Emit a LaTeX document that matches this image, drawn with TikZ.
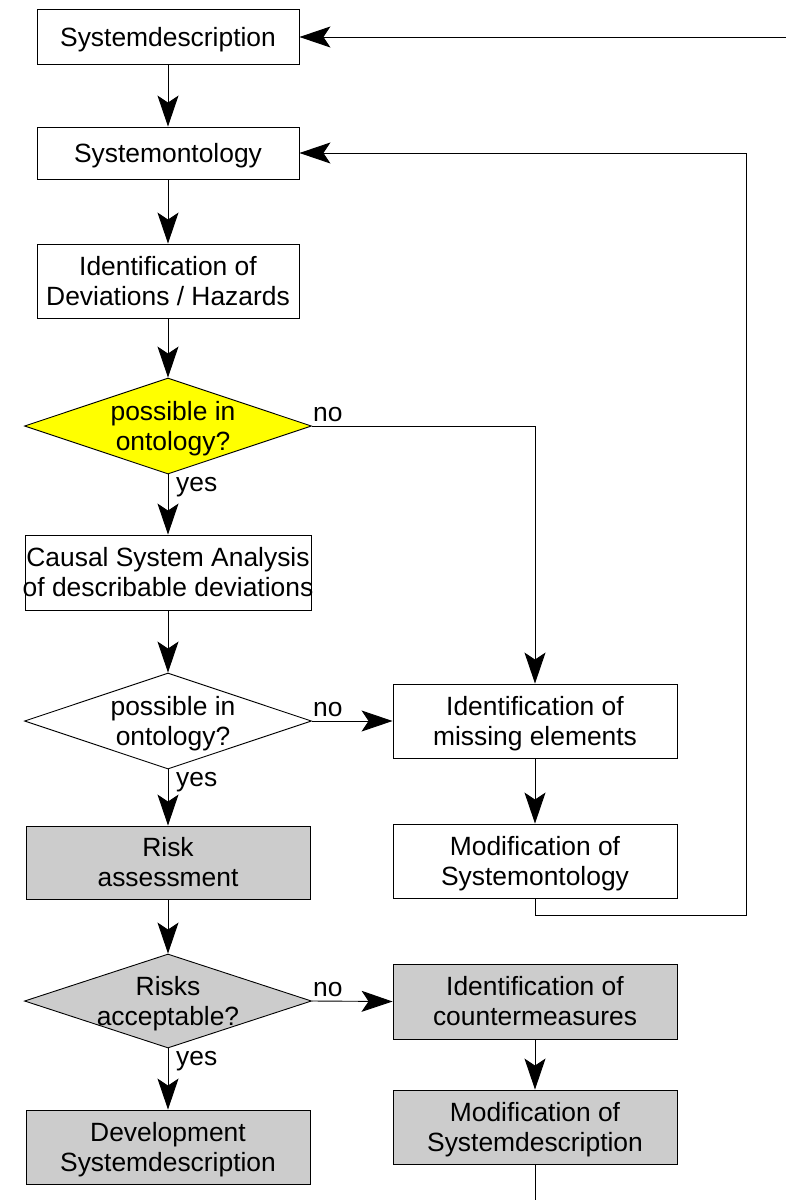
\documentclass[tikz,border=0pt]{standalone}
\usepackage{fontspec}
\setmainfont{Liberation Sans}
\usetikzlibrary{arrows.meta,shapes.geometric}
\definecolor{flowgray}{RGB}{204,204,204}
\definecolor{flowyellow}{RGB}{255,255,0}
\begin{document}
\begin{tikzpicture}[x=1pt,y=-1pt,
  every node/.style={font=\fontsize{26.4}{30.4}\selectfont},
  stepbox/.style={draw=black, line width=0.9pt, fill=white, align=center,
    inner sep=0pt, minimum width=284pt, minimum height=74pt,
    text height=53.9pt, text depth=5pt},
  onelinebox/.style={stepbox, text height=23.5pt},
  decision/.style={draw=black, line width=0.9pt, diamond, inner sep=0pt,
    minimum width=287pt, minimum height=96pt},
  decisiontext/.style={align=center, inner sep=0pt,
    text height=53.9pt, text depth=5pt},
  flow/.style={line width=0.9pt, draw=black,
    -{Stealth[length=31pt, width=21pt, inset=7pt]}},
  plain/.style={line width=0.9pt, draw=black},
  yeslabel/.style={anchor=north west, inner sep=0pt, xshift=8pt, yshift=-3pt},
  nolabel/.style={anchor=south west, inner sep=0pt, xshift=1pt, yshift=4pt}]
\useasboundingbox (0,0) rectangle (786,1200);

% left column
\node[onelinebox, minimum width=262pt, minimum height=55pt] (sd) at (168,37) {Systemdescription};
\node[onelinebox, minimum width=262pt, minimum height=52pt] (so) at (168,153) {Systemontology};
\node[stepbox, minimum width=262pt, minimum height=74pt] (idh) at (168,281) {Identification of\\Deviations / Hazards};
\node[decision, fill=flowyellow] (d1) at (168,426) {};
\node[decisiontext] (d1t) at (173,426) {possible in\\ontology?};
\node[stepbox, minimum width=286pt, minimum height=75pt] (causal) at (168,572.5)
  {\makebox[286pt]{Causal System Analysis}\\\makebox[286pt]{of describable deviations}};
\node[decision, fill=white] (d2) at (168,721) {};
\node[decisiontext] (d2t) at (173,721) {possible in\\ontology?};
\node[stepbox, fill=flowgray, minimum height=73pt] (ra) at (168,862.5) {Risk\\assessment};
\node[decision, fill=flowgray, minimum height=94pt] (d3) at (168,1001) {};
\node[decisiontext] (d3t) at (168,1001) {Risks\\acceptable?};
\node[stepbox, fill=flowgray] (dev) at (168,1147) {Development\\Systemdescription};

% right column
\node[stepbox] (ime) at (535,721) {Identification of\\missing elements};
\node[stepbox] (mso) at (535,861) {Modification of\\Systemontology};
\node[stepbox, fill=flowgray, minimum height=75pt] (icm) at (535,1001.5) {Identification of\\countermeasures};
\node[stepbox, fill=flowgray] (msd) at (535,1127) {Modification of\\Systemdescription};

% loose ends of the outer loop
\coordinate (topin) at (786,37);
\coordinate (botout) at (535,1200);
\coordinate (loopcorner) at (746,915);

% main line
\draw[flow] (sd) -- (so);
\draw[flow] (so) -- (idh);
\draw[flow] (idh) -- (d1);
\draw[flow] (d1) -- (causal);
\draw[flow] (causal) -- (d2);
\draw[flow] (d2) -- (ra);
\draw[flow] (ra) -- (d3);
\draw[flow] (d3) -- (dev);

% branches
\draw[flow] (d1.east) -| (ime.north);
\draw[flow] (d2.east) -- (ime.west);
\draw[flow] (ime) -- (mso);
\draw[flow] (mso.south) |- (loopcorner) |- (so.east);
\draw[flow] (d3.east) -- (icm.west);
\draw[flow] (icm) -- (msd);
\draw[plain] (msd.south) -- (botout);
\draw[flow] (topin) -- (sd.east);

% branch labels
\node[nolabel] (d1no) at (d1.east) {no};
\node[yeslabel] (d1yes) at (d1.south) {yes};
\node[nolabel] (d2no) at (d2.east) {no};
\node[yeslabel] (d2yes) at (d2.south) {yes};
\node[nolabel] (d3no) at (d3.east) {no};
\node[yeslabel] (d3yes) at (d3.south) {yes};
\end{tikzpicture}
\end{document}
